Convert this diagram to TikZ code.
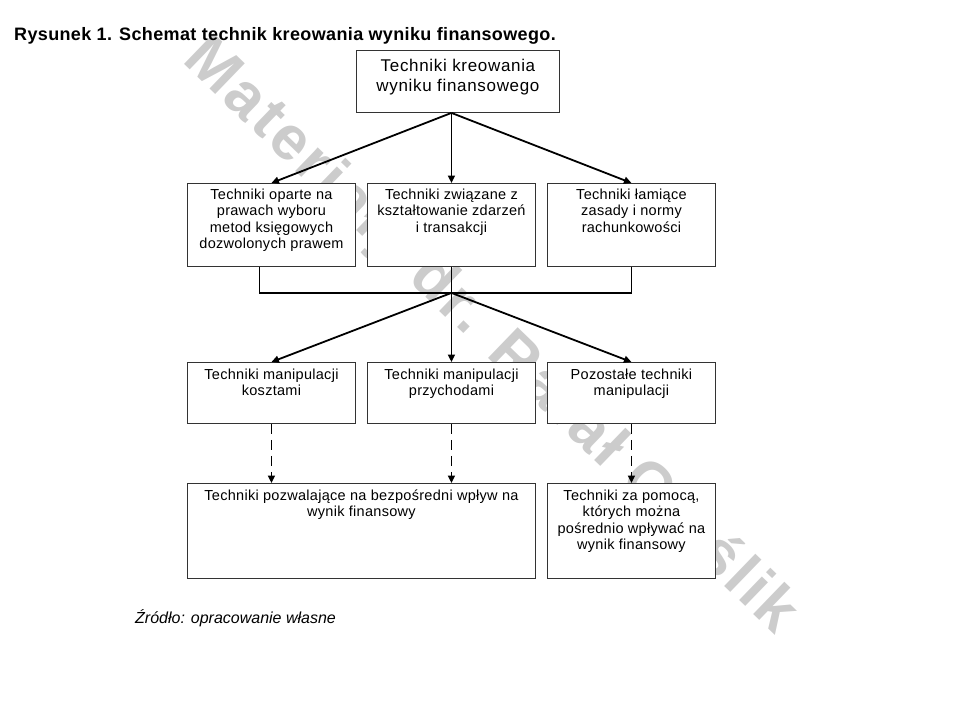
\documentclass[tikz,border=0pt]{standalone}
\usepackage{fontspec}
\setmainfont{Liberation Sans}
\newfontfamily\boxfont[LetterSpace=2]{Liberation Sans}
\newfontfamily\topfont[LetterSpace=4]{Liberation Sans}
\newfontfamily\titlefont[LetterSpace=2]{Liberation Sans}
\newfontfamily\markfont[LetterSpace=5]{Liberation Sans}
\usetikzlibrary{arrows.meta}

\tikzset{
  box/.style={draw=black!80, fill=white, line width=0.9pt, anchor=north west, inner sep=0pt},
  txt/.style={anchor=north, align=center, inner sep=0pt, font=\boxfont\fontsize{14.5}{16.5}\selectfont},
  link/.style={line width=1.8pt, -{Triangle[length=7.5pt,width=7pt]}},
  dlink/.style={link, dash pattern=on 10pt off 6pt}
}

\begin{document}
\begin{tikzpicture}[x=1pt,y=-1pt]
    \useasboundingbox (0,0) rectangle (960,720);

    % Watermark
    \node[rotate=-44, text=black!20, font=\markfont\bfseries\fontsize{62}{62}\selectfont] (wm) at (490,337) {Materiały dr. Rafał Cieślik};

    % Title
    \node[anchor=base west, inner sep=0pt, font=\titlefont\bfseries\fontsize{18}{20}\selectfont] (title) at (14,40) {Rysunek 1. Schemat technik kreowania wyniku finansowego.};

    % Boxes
    \node[box, minimum width=203, minimum height=62] (top) at (356,50) {};
    \node[box, minimum width=168, minimum height=83] (l2) at (187,183) {};
    \node[box, minimum width=168, minimum height=83] (m2) at (367,183) {};
    \node[box, minimum width=168, minimum height=83] (r2) at (547,183) {};
    \node[box, minimum width=168, minimum height=61] (l3) at (187,362) {};
    \node[box, minimum width=168, minimum height=61] (m3) at (367,362) {};
    \node[box, minimum width=168, minimum height=61] (r3) at (547,362) {};
    \node[box, minimum width=348, minimum height=95] (l4) at (187,483) {};
    \node[box, minimum width=168, minimum height=95] (r4) at (547,483) {};

    % Box texts
    \node[txt, font=\topfont\fontsize{17}{20}\selectfont] (topt) at ([yshift=-9pt]top.north) {Techniki kreowania\\wyniku finansowego};
    \node[txt] (l2t) at ([yshift=-5.5pt]l2.north) {Techniki oparte na\\prawach wyboru\\metod księgowych\\dozwolonych prawem};
    \node[txt] (m2t) at ([yshift=-5.5pt]m2.north) {Techniki związane z\\kształtowanie zdarzeń\\i transakcji};
    \node[txt] (r2t) at ([yshift=-5.5pt]r2.north) {Techniki łamiące\\zasady i normy\\rachunkowości};
    \node[txt] (l3t) at ([yshift=-6.5pt]l3.north) {Techniki manipulacji\\kosztami};
    \node[txt] (m3t) at ([yshift=-6.5pt]m3.north) {Techniki manipulacji\\przychodami};
    \node[txt] (r3t) at ([yshift=-6.5pt]r3.north) {Pozostałe techniki\\manipulacji};
    \node[txt] (l4t) at ([yshift=-6.5pt]l4.north) {Techniki pozwalające na bezpośredni wpływ na\\wynik finansowy};
    \node[txt] (r4t) at ([yshift=-6.5pt]r4.north) {Techniki za pomocą,\\których można\\pośrednio wpływać na\\wynik finansowy};

    % Arrows from the top box
    \coordinate (src) at (top.south -| m2.north);
    \draw[link] (src) -- (l2.north);
    \draw[link] (src) -- (m2.north);
    \draw[link] (src) -- (r2.north);

    % Joining bracket
    \coordinate (hub) at ([yshift=-26pt]m2.south);
    \draw[line width=1.8pt] ([xshift=-12pt]l2.south) -- ++(0,26) -| (r2.south);
    \draw[line width=1.8pt] (m2.south) -- (hub);
    \draw[link] (hub) -- (l3.north);
    \draw[link] (hub) -- (m3.north);
    \draw[link] (hub) -- (r3.north);

    % Dashed arrows
    \draw[dlink] (l3.south) -- (l3.south |- l4.north);
    \draw[dlink] (m3.south) -- (m3.south |- l4.north);
    \draw[dlink] (r3.south) -- (r4.north);

    % Source
    \node[anchor=base west, inner sep=0pt, font=\itshape\fontsize{16}{18}\selectfont] (source) at (135,623) {Źródło: opracowanie własne};
\end{tikzpicture}
\end{document}
